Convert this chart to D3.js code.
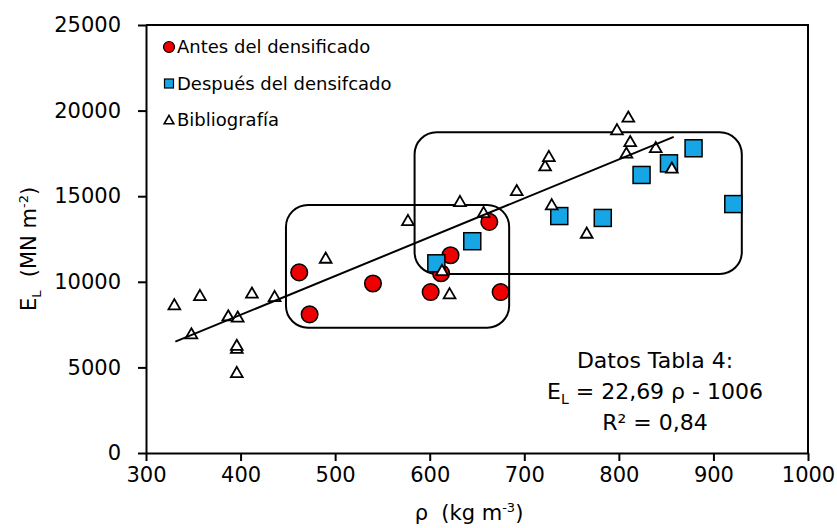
<!DOCTYPE html>
<html>
<head>
<meta charset="utf-8">
<script src="https://cdn.jsdelivr.net/npm/d3@7"></script>
<style>
  body { margin: 0; background: #fff; }
  text { font-family: "DejaVu Sans", Verdana, sans-serif; fill: #000; white-space: pre; }
</style>
</head>
<body>
<svg id="chart" width="837" height="528"></svg>
<script>
// tick values
const xTicks = [300, 400, 500, 600, 700, 800, 900, 1000];
const yTicks = [0, 5000, 10000, 15000, 20000, 25000];

// [density, modulus]
const antes = [[462, 10550], [473, 8100], [540, 9900], [601, 9400],
               [612, 10500], [622, 11550], [663, 13500], [675, 9400]];
const despues = [[607, 11080], [645, 12370], [737, 13840], [783, 13730],
                 [824, 16240], [853, 16920], [879, 17800], [921, 14540]];
const biblio = [[330, 8650], [348, 6950], [357, 9190], [387, 8000], [397, 7930],
                [396, 6100], [396, 6280], [396, 4690], [412, 9330], [436, 9130],
                [490, 11370], [577, 13570], [632, 14680], [657, 14040], [613, 10650],
                [621, 9290], [692, 15320], [722, 16760], [726, 17310], [729, 14490],
                [766, 12830], [798, 18870], [810, 19610], [812, 18180], [808, 17510],
                [839, 17830], [856, 16630]];

// trend line E = 22,69 rho - 1006
const fitSlope = 22.69, fitIntercept = -1006;
const fitRange = [331, 858];

// grouping boxes: [x0, x1, y0, y1] in data units
const boxes = [[448, 684, 7320, 14490], [584, 930, 10455, 18730]];

const legendItems = ["Antes del densificado", "Después del densifcado", "Bibliografía"];

const svg = d3.select("#chart");
const x = d3.scaleLinear().domain([300, 1000]).range([146, 808]);
const y = d3.scaleLinear().domain([0, 25000]).range([453, 25]);

// frame top / right
svg.append("path")
  .attr("d", `M${x(300)},${y(25000)}H${x(1000)}V${y(0)}`)
  .attr("fill", "none").attr("stroke", "#000").attr("stroke-width", 2);

const xAxis = svg.append("g")
  .attr("transform", `translate(0,${y(0)})`)
  .call(d3.axisBottom(x).tickValues(xTicks).tickSize(8).tickSizeOuter(0).tickPadding(6)
    .tickFormat(d3.format("d")));
const yAxis = svg.append("g")
  .attr("transform", `translate(${x(300)},0)`)
  .call(d3.axisLeft(y).tickValues(yTicks).tickSize(8).tickSizeOuter(0).tickPadding(17)
    .tickFormat(d3.format("d")));

[xAxis, yAxis].forEach(g => {
  g.select(".domain").attr("stroke", "#000").attr("stroke-width", 2);
  g.selectAll(".tick line").attr("stroke", "#000").attr("stroke-width", 2);
  g.selectAll(".tick text").style("font-size", "21px").attr("fill", "#000")
    .style("font-family", "'DejaVu Sans', Verdana, sans-serif");
});

// boxes
svg.append("g").selectAll("rect").data(boxes).join("rect")
  .attr("x", d => x(d[0])).attr("y", d => y(d[3]))
  .attr("width", d => x(d[1]) - x(d[0])).attr("height", d => y(d[2]) - y(d[3]))
  .attr("rx", 22).attr("ry", 22)
  .attr("fill", "none").attr("stroke", "#000").attr("stroke-width", 2);

// red circles
svg.append("g").selectAll("circle").data(antes).join("circle")
  .attr("cx", d => x(d[0])).attr("cy", d => y(d[1])).attr("r", 8.3)
  .attr("fill", "#ee0000").attr("stroke", "#000").attr("stroke-width", 1.5);

// blue squares
svg.append("g").selectAll("rect").data(despues).join("rect")
  .attr("x", d => x(d[0]) - 8.5).attr("y", d => y(d[1]) - 8.5)
  .attr("width", 17).attr("height", 17)
  .attr("fill", "#16a6e6").attr("stroke", "#000").attr("stroke-width", 1.5);

// triangles
const tri = d3.symbol().type(d3.symbolTriangle).size(60);
svg.append("g").selectAll("path").data(biblio).join("path")
  .attr("d", tri)
  .attr("transform", d => `translate(${x(d[0])},${y(d[1]) + 1})`)
  .attr("fill", "#fff").attr("stroke", "#000").attr("stroke-width", 1.8);

// trend line
svg.append("line")
  .attr("x1", x(fitRange[0])).attr("y1", y(fitSlope * fitRange[0] + fitIntercept))
  .attr("x2", x(fitRange[1])).attr("y2", y(fitSlope * fitRange[1] + fitIntercept))
  .attr("stroke", "#000").attr("stroke-width", 2);

// legend
const leg = svg.append("g").selectAll("g").data(legendItems).join("g")
  .attr("transform", (d, i) => `translate(169,${47 + i * 36.5})`);
leg.filter((d, i) => i === 0).append("circle").attr("r", 5.5)
  .attr("fill", "#ee0000").attr("stroke", "#000").attr("stroke-width", 1.2);
leg.filter((d, i) => i === 1).append("rect").attr("x", -4.5).attr("y", -4.5)
  .attr("width", 9).attr("height", 9)
  .attr("fill", "#16a6e6").attr("stroke", "#000").attr("stroke-width", 1.2);
leg.filter((d, i) => i === 2).append("path")
  .attr("d", d3.symbol().type(d3.symbolTriangle).size(40))
  .attr("transform", "translate(0,1)")
  .attr("fill", "#fff").attr("stroke", "#000").attr("stroke-width", 1.6);
leg.append("text").attr("x", 8).attr("dy", "0.36em")
  .style("font-size", "18px").text(d => d);

// annotation
svg.append("text").attr("text-anchor", "middle").style("font-size", "22px")
  .attr("x", 655).attr("y", 368).text("Datos Tabla 4:");
const l2 = svg.append("text").attr("text-anchor", "middle").style("font-size", "22px")
  .attr("x", 655).attr("y", 399);
l2.append("tspan").text("E");
l2.append("tspan").attr("dy", 5).style("font-size", "14px").text("L");
l2.append("tspan").attr("dy", -5).text(" = 22,69 ρ - 1006");
svg.append("text").attr("text-anchor", "middle").style("font-size", "22px")
  .attr("x", 655).attr("y", 430).text("R² = 0,84");

// axis titles
const xt = svg.append("text").attr("text-anchor", "middle").style("font-size", "21px")
  .attr("x", 469).attr("y", 520);
xt.append("tspan").text("ρ  (kg m");
xt.append("tspan").attr("dy", -8).style("font-size", "13px").text("-3");
xt.append("tspan").attr("dy", 8).text(")");

const yt = svg.append("text").attr("text-anchor", "middle").style("font-size", "21px")
  .attr("transform", "translate(36,249) rotate(-90)");
yt.append("tspan").text("E");
yt.append("tspan").attr("dy", 5).style("font-size", "13px").text("L");
yt.append("tspan").attr("dy", -5).text("  (MN m");
yt.append("tspan").attr("dy", -8).style("font-size", "13px").text("-2");
yt.append("tspan").attr("dy", 8).text(")");
</script>
</body>
</html>
